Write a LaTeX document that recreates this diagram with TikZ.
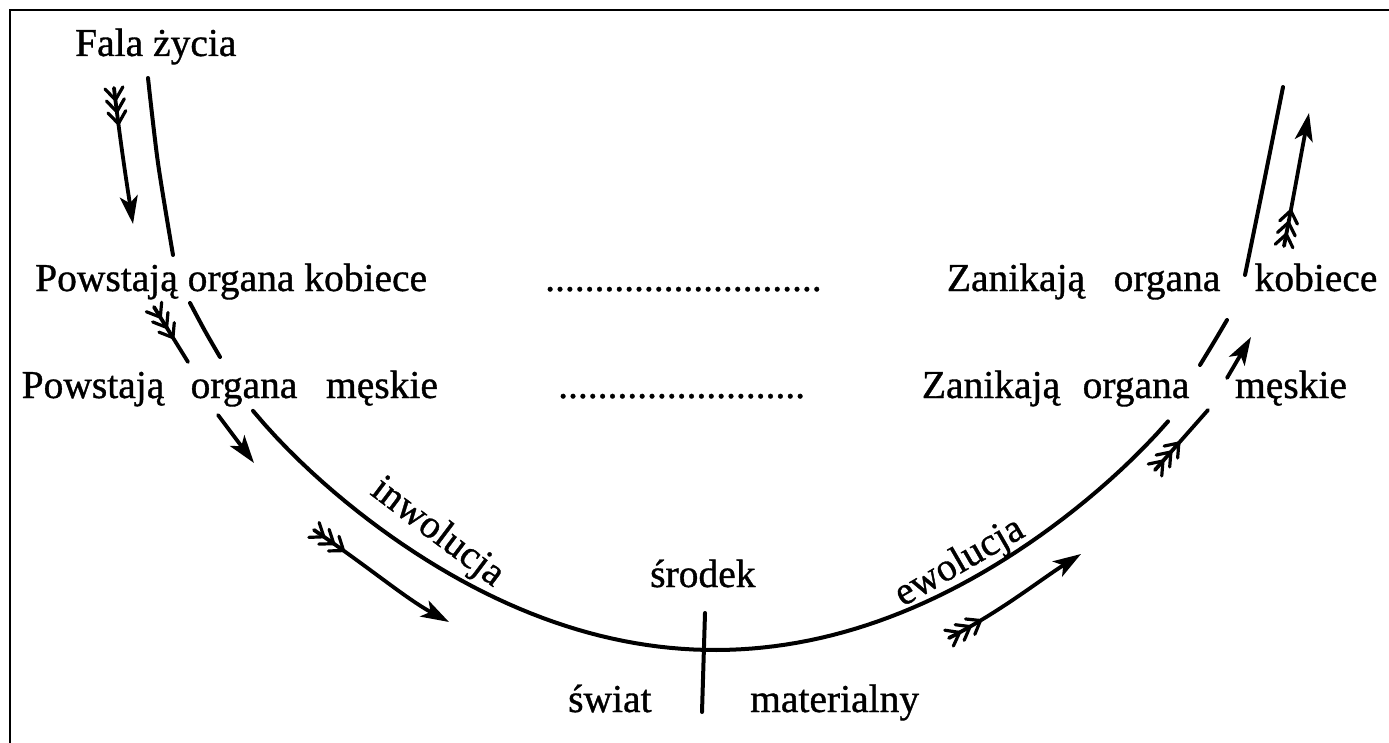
\documentclass[tikz,border=0pt]{standalone}
\usepackage{fontspec}
\setmainfont[FakeBold=0.9]{Liberation Serif}
\usetikzlibrary{arrows.meta,decorations.markings}
\newcommand\fchev{\draw[-,line width=3.2pt,line cap=round,line join=round] (-12pt,9pt)--(0pt,0pt)--(-12pt,-9pt);}
\begin{document}
\begin{tikzpicture}[x=1pt,y=-1pt,
  txt/.style={font=\fontsize{39.5}{42}\selectfont, inner sep=0pt, anchor=base west},
  ctxt/.style={font=\fontsize{39.5}{42}\selectfont, inner sep=0pt, anchor=base},
  rtxt/.style={font=\fontsize{39.5}{42}\selectfont, inner sep=0pt, anchor=center},
  curve/.style={line width=4pt, line cap=round},
  shaft/.style={line width=3.8pt, line cap=round},
  headed/.style={-{Stealth[length=28pt,width=18pt,inset=7pt]}},
  fletch/.style={postaction={decorate,decoration={markings,
     mark=at position 12pt with {\fchev},
     mark=at position 24pt with {\fchev},
     mark=at position 36pt with {\fchev}}}},
  frame/.style={line width=2.8pt}
]
\useasboundingbox (0,0) rectangle (1389,743);
% frame
\coordinate (fbl) at (10,743);
\coordinate (ftl) at (10,10);
\coordinate (ftr) at (1389,10);
\draw[frame] (fbl) -- (ftl) -- (ftr);

% texts
\node[txt] (fala) at (75,56) {Fala życia};
\node[txt] (pk) at (35,291) {Powstają organa kobiece};
\node[txt] (dotsA) at (545,291) {............................};
\node[ctxt] (zk1) at (1016,291) {Zanikają};
\node[ctxt] (zk2) at (1167,291) {organa};
\node[ctxt] (zk3) at (1316,291) {kobiece};
\node[ctxt] (pm1) at (93,398) {Powstają};
\node[ctxt] (pm2) at (244,398) {organa};
\node[ctxt] (pm3) at (382,398) {męskie};
\node[txt] (dotsB) at (558,398) {.........................};
\node[ctxt] (zm1) at (991,398) {Zanikają};
\node[ctxt] (zm2) at (1136,398) {organa};
\node[ctxt] (zm3) at (1291,398) {męskie};
\node[rtxt,rotate=-37] (inw) at (437,533) {inwolucja};
\node[rtxt,rotate=30] (ewo) at (960,563) {ewolucja};
\node[txt] (srodek) at (650,587) {środek};
\node[txt] (swiat) at (568,712) {świat};
\node[txt] (mat) at (750,712) {materialny};

% main curve
\draw[curve] plot[smooth] coordinates {(148,78) (158,163) (173,255)};
\draw[curve] plot[smooth] coordinates {(190,303) (205,331) (220,357)};
\draw[curve] plot[domain=253:1168, samples=80, variable=\t]
  (\t, {650 - 10.8*((\t-715)/100)^2 - 15*exp(2.4*(abs((\t-715)/100)-4.85))});
\draw[curve] plot[smooth] coordinates {(1200,365) (1214,342) (1227,320)};
\draw[curve] plot[smooth] coordinates {(1245,275) (1264,182) (1283,87)};

% middle tick
\coordinate (tickT) at (705,613);
\coordinate (tickB) at (702,712);
\draw[curve] (tickT) -- (tickB);

% arrows
\coordinate (a1s) at (114,88);
\coordinate (a1e) at (133,224);
\draw[shaft,headed,fletch] (a1s) .. controls (120,140) and (127,185) .. (a1e);

\coordinate (a2s) at (154,307);
\coordinate (a2e) at (188,362);
\draw[shaft,fletch] (a2s) -- (a2e);
\coordinate (a2bs) at (218,415);
\coordinate (a2be) at (254,463);
\draw[shaft,headed] (a2bs) -- (a2be);

\coordinate (a3s) at (314,530);
\coordinate (a3e) at (449,622);
\draw[shaft,headed,fletch] (a3s) .. controls (370,568) and (405,598) .. (a3e);

\coordinate (a4s) at (949,638);
\coordinate (a4e) at (1081,554);
\draw[shaft,headed,fletch] (a4s) .. controls (1000,612) and (1040,580) .. (a4e);

\coordinate (a5s) at (1155,470);
\coordinate (a5e) at (1208,410);
\draw[shaft,fletch] (a5s) -- (a5e);
\coordinate (a5bs) at (1227,378);
\coordinate (a5be) at (1251,337);
\draw[shaft,headed] (a5bs) -- (a5be);

\coordinate (a6s) at (1284,246);
\coordinate (a6e) at (1309,113);
\draw[shaft,headed,fletch] (a6s) .. controls (1293,200) and (1300,160) .. (a6e);
\end{tikzpicture}
\end{document}
